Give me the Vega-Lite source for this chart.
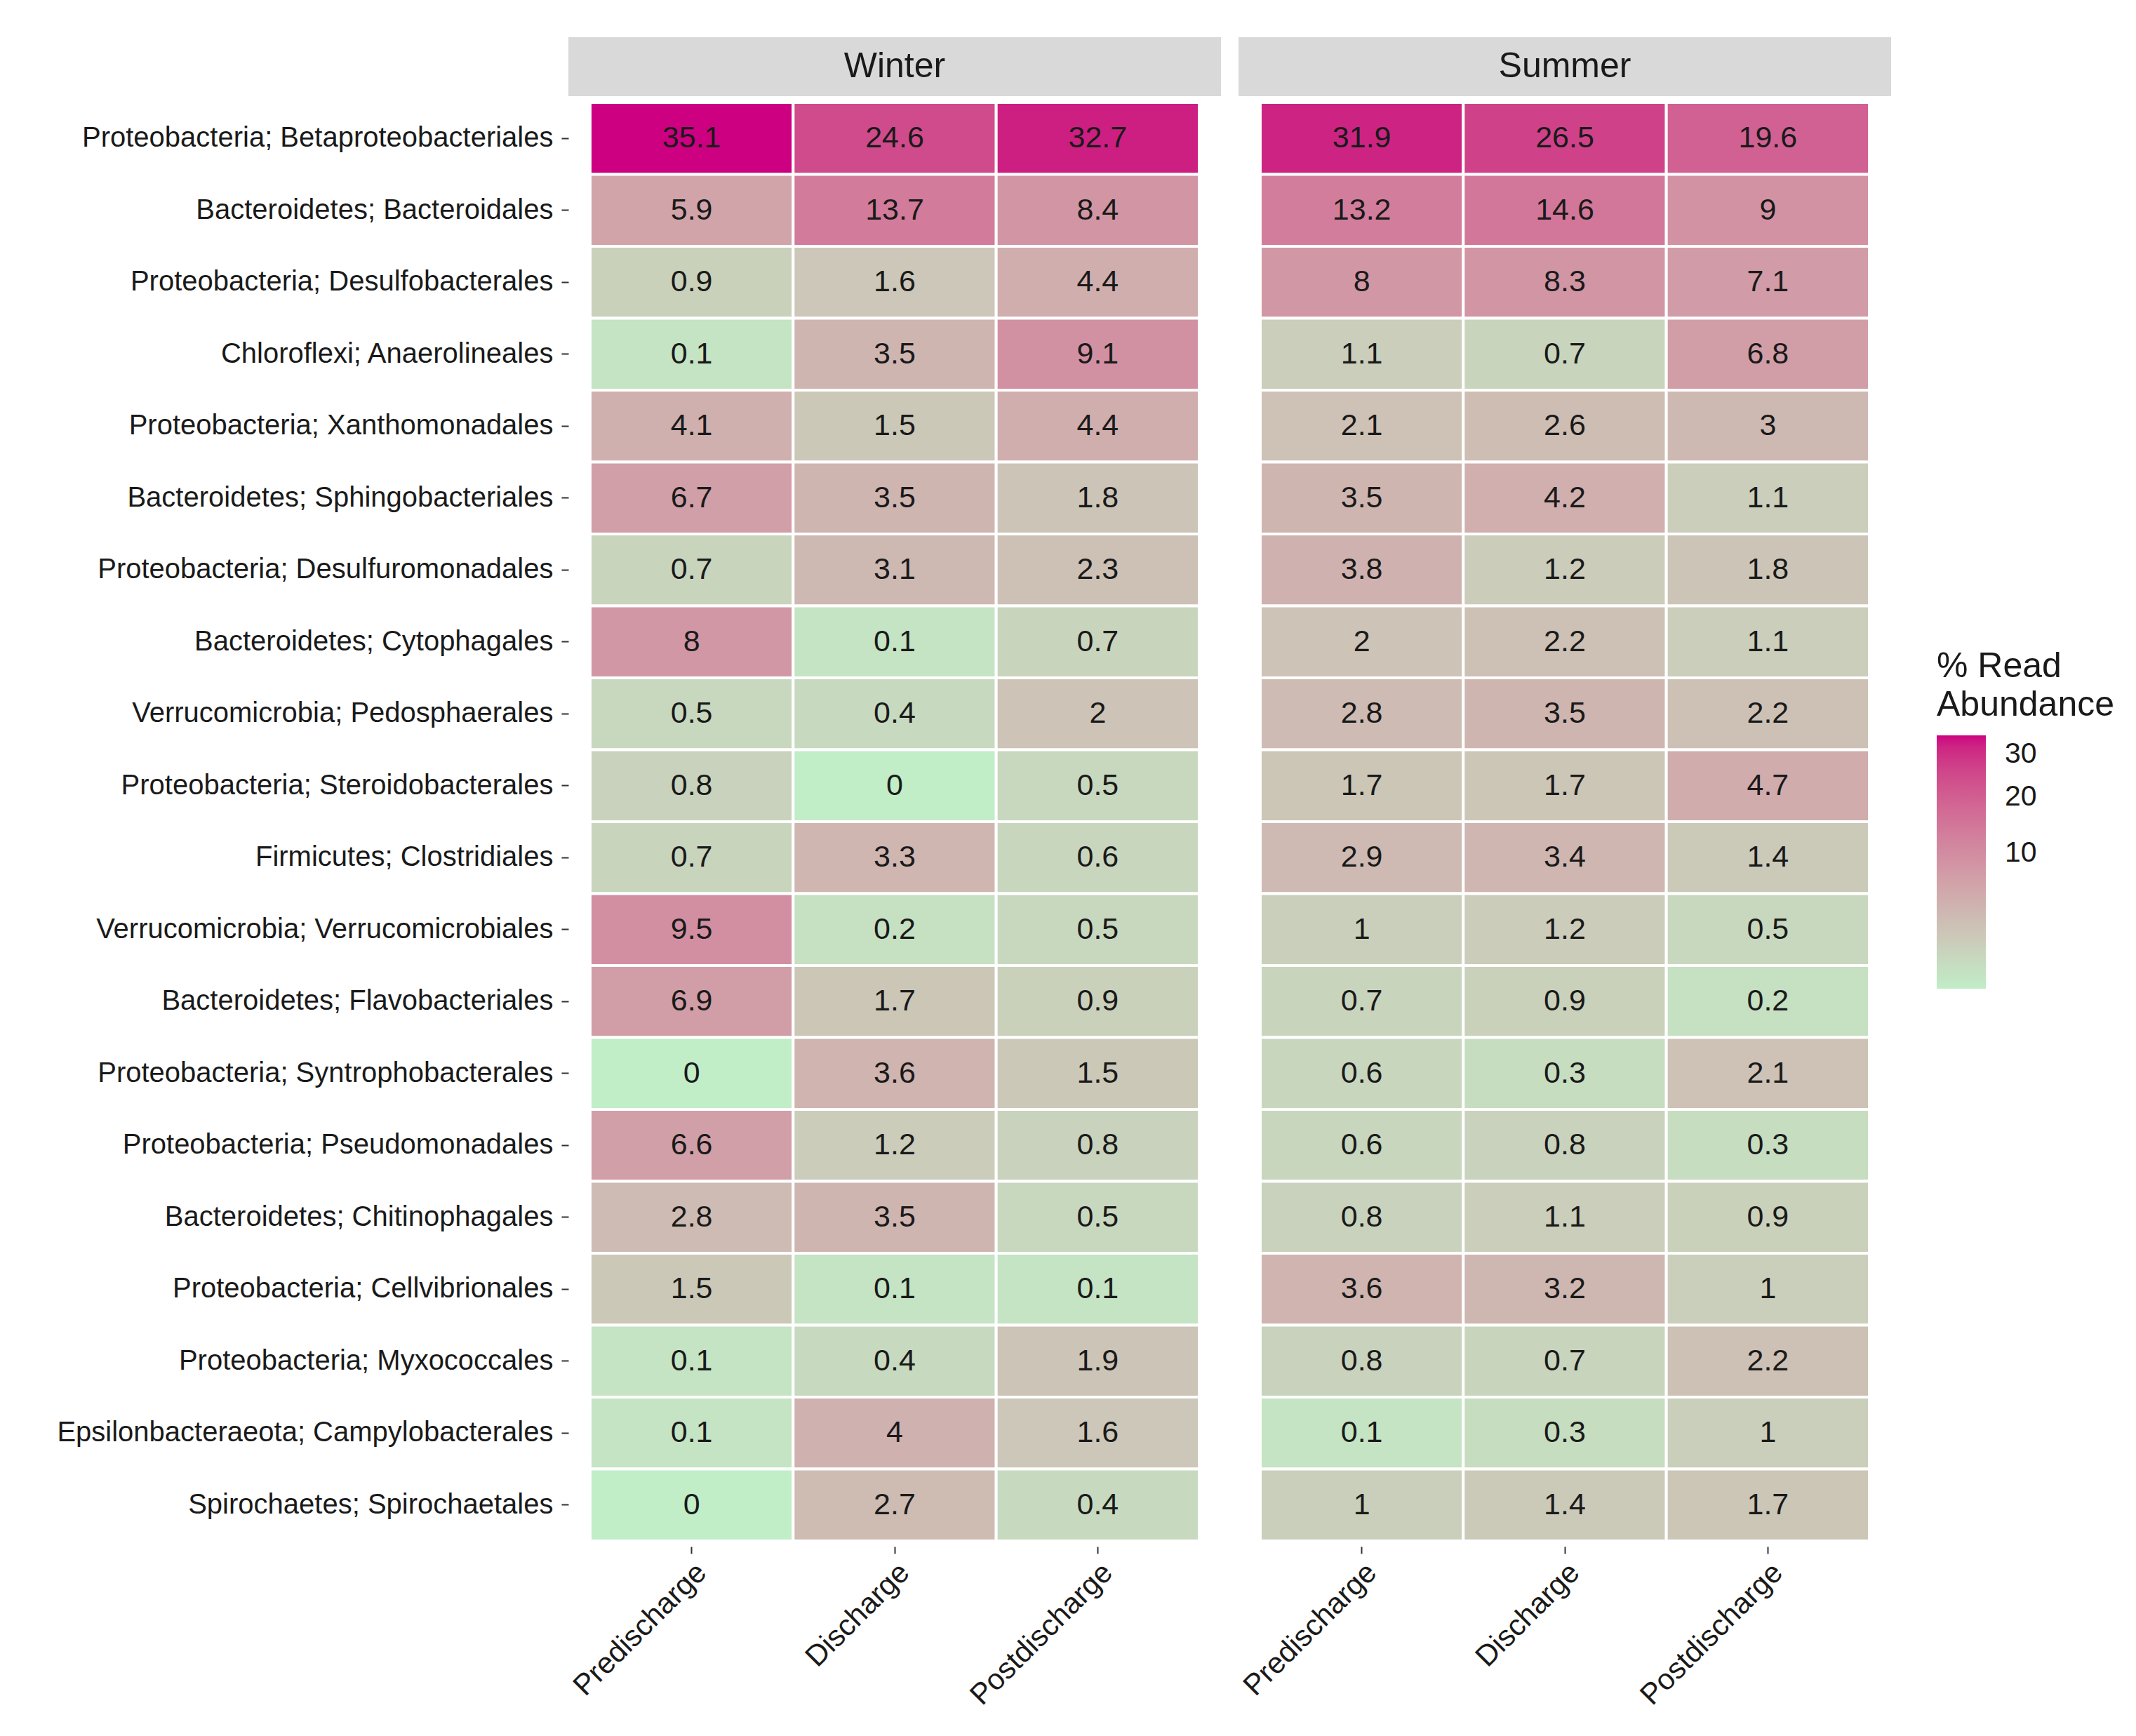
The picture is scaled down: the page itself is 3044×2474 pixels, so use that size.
{
  "$schema": "https://vega.github.io/schema/vega-lite/v6.json",
  "padding": {"left": 80, "top": 53, "right": 10, "bottom": 10},
  "background": "white",
  "config": {
    "font": "Liberation Sans",
    "view": {"stroke": null},
    "axis": {"labelFont": "Liberation Sans", "labelColor": "#1a1a1a", "tickColor": "#333333", "domain": false, "grid": false, "title": null, "labelLimit": 0}
  },
  "datasets": {
    "cells": [
      {"taxon": "Proteobacteria; Betaproteobacteriales", "season": "Winter", "stage": "Predischarge", "value": 35.1},
      {"taxon": "Proteobacteria; Betaproteobacteriales", "season": "Winter", "stage": "Discharge", "value": 24.6},
      {"taxon": "Proteobacteria; Betaproteobacteriales", "season": "Winter", "stage": "Postdischarge", "value": 32.7},
      {"taxon": "Proteobacteria; Betaproteobacteriales", "season": "Summer", "stage": "Predischarge", "value": 31.9},
      {"taxon": "Proteobacteria; Betaproteobacteriales", "season": "Summer", "stage": "Discharge", "value": 26.5},
      {"taxon": "Proteobacteria; Betaproteobacteriales", "season": "Summer", "stage": "Postdischarge", "value": 19.6},
      {"taxon": "Bacteroidetes; Bacteroidales", "season": "Winter", "stage": "Predischarge", "value": 5.9},
      {"taxon": "Bacteroidetes; Bacteroidales", "season": "Winter", "stage": "Discharge", "value": 13.7},
      {"taxon": "Bacteroidetes; Bacteroidales", "season": "Winter", "stage": "Postdischarge", "value": 8.4},
      {"taxon": "Bacteroidetes; Bacteroidales", "season": "Summer", "stage": "Predischarge", "value": 13.2},
      {"taxon": "Bacteroidetes; Bacteroidales", "season": "Summer", "stage": "Discharge", "value": 14.6},
      {"taxon": "Bacteroidetes; Bacteroidales", "season": "Summer", "stage": "Postdischarge", "value": 9},
      {"taxon": "Proteobacteria; Desulfobacterales", "season": "Winter", "stage": "Predischarge", "value": 0.9},
      {"taxon": "Proteobacteria; Desulfobacterales", "season": "Winter", "stage": "Discharge", "value": 1.6},
      {"taxon": "Proteobacteria; Desulfobacterales", "season": "Winter", "stage": "Postdischarge", "value": 4.4},
      {"taxon": "Proteobacteria; Desulfobacterales", "season": "Summer", "stage": "Predischarge", "value": 8},
      {"taxon": "Proteobacteria; Desulfobacterales", "season": "Summer", "stage": "Discharge", "value": 8.3},
      {"taxon": "Proteobacteria; Desulfobacterales", "season": "Summer", "stage": "Postdischarge", "value": 7.1},
      {"taxon": "Chloroflexi; Anaerolineales", "season": "Winter", "stage": "Predischarge", "value": 0.1},
      {"taxon": "Chloroflexi; Anaerolineales", "season": "Winter", "stage": "Discharge", "value": 3.5},
      {"taxon": "Chloroflexi; Anaerolineales", "season": "Winter", "stage": "Postdischarge", "value": 9.1},
      {"taxon": "Chloroflexi; Anaerolineales", "season": "Summer", "stage": "Predischarge", "value": 1.1},
      {"taxon": "Chloroflexi; Anaerolineales", "season": "Summer", "stage": "Discharge", "value": 0.7},
      {"taxon": "Chloroflexi; Anaerolineales", "season": "Summer", "stage": "Postdischarge", "value": 6.8},
      {"taxon": "Proteobacteria; Xanthomonadales", "season": "Winter", "stage": "Predischarge", "value": 4.1},
      {"taxon": "Proteobacteria; Xanthomonadales", "season": "Winter", "stage": "Discharge", "value": 1.5},
      {"taxon": "Proteobacteria; Xanthomonadales", "season": "Winter", "stage": "Postdischarge", "value": 4.4},
      {"taxon": "Proteobacteria; Xanthomonadales", "season": "Summer", "stage": "Predischarge", "value": 2.1},
      {"taxon": "Proteobacteria; Xanthomonadales", "season": "Summer", "stage": "Discharge", "value": 2.6},
      {"taxon": "Proteobacteria; Xanthomonadales", "season": "Summer", "stage": "Postdischarge", "value": 3},
      {"taxon": "Bacteroidetes; Sphingobacteriales", "season": "Winter", "stage": "Predischarge", "value": 6.7},
      {"taxon": "Bacteroidetes; Sphingobacteriales", "season": "Winter", "stage": "Discharge", "value": 3.5},
      {"taxon": "Bacteroidetes; Sphingobacteriales", "season": "Winter", "stage": "Postdischarge", "value": 1.8},
      {"taxon": "Bacteroidetes; Sphingobacteriales", "season": "Summer", "stage": "Predischarge", "value": 3.5},
      {"taxon": "Bacteroidetes; Sphingobacteriales", "season": "Summer", "stage": "Discharge", "value": 4.2},
      {"taxon": "Bacteroidetes; Sphingobacteriales", "season": "Summer", "stage": "Postdischarge", "value": 1.1},
      {"taxon": "Proteobacteria; Desulfuromonadales", "season": "Winter", "stage": "Predischarge", "value": 0.7},
      {"taxon": "Proteobacteria; Desulfuromonadales", "season": "Winter", "stage": "Discharge", "value": 3.1},
      {"taxon": "Proteobacteria; Desulfuromonadales", "season": "Winter", "stage": "Postdischarge", "value": 2.3},
      {"taxon": "Proteobacteria; Desulfuromonadales", "season": "Summer", "stage": "Predischarge", "value": 3.8},
      {"taxon": "Proteobacteria; Desulfuromonadales", "season": "Summer", "stage": "Discharge", "value": 1.2},
      {"taxon": "Proteobacteria; Desulfuromonadales", "season": "Summer", "stage": "Postdischarge", "value": 1.8},
      {"taxon": "Bacteroidetes; Cytophagales", "season": "Winter", "stage": "Predischarge", "value": 8},
      {"taxon": "Bacteroidetes; Cytophagales", "season": "Winter", "stage": "Discharge", "value": 0.1},
      {"taxon": "Bacteroidetes; Cytophagales", "season": "Winter", "stage": "Postdischarge", "value": 0.7},
      {"taxon": "Bacteroidetes; Cytophagales", "season": "Summer", "stage": "Predischarge", "value": 2},
      {"taxon": "Bacteroidetes; Cytophagales", "season": "Summer", "stage": "Discharge", "value": 2.2},
      {"taxon": "Bacteroidetes; Cytophagales", "season": "Summer", "stage": "Postdischarge", "value": 1.1},
      {"taxon": "Verrucomicrobia; Pedosphaerales", "season": "Winter", "stage": "Predischarge", "value": 0.5},
      {"taxon": "Verrucomicrobia; Pedosphaerales", "season": "Winter", "stage": "Discharge", "value": 0.4},
      {"taxon": "Verrucomicrobia; Pedosphaerales", "season": "Winter", "stage": "Postdischarge", "value": 2},
      {"taxon": "Verrucomicrobia; Pedosphaerales", "season": "Summer", "stage": "Predischarge", "value": 2.8},
      {"taxon": "Verrucomicrobia; Pedosphaerales", "season": "Summer", "stage": "Discharge", "value": 3.5},
      {"taxon": "Verrucomicrobia; Pedosphaerales", "season": "Summer", "stage": "Postdischarge", "value": 2.2},
      {"taxon": "Proteobacteria; Steroidobacterales", "season": "Winter", "stage": "Predischarge", "value": 0.8},
      {"taxon": "Proteobacteria; Steroidobacterales", "season": "Winter", "stage": "Discharge", "value": 0},
      {"taxon": "Proteobacteria; Steroidobacterales", "season": "Winter", "stage": "Postdischarge", "value": 0.5},
      {"taxon": "Proteobacteria; Steroidobacterales", "season": "Summer", "stage": "Predischarge", "value": 1.7},
      {"taxon": "Proteobacteria; Steroidobacterales", "season": "Summer", "stage": "Discharge", "value": 1.7},
      {"taxon": "Proteobacteria; Steroidobacterales", "season": "Summer", "stage": "Postdischarge", "value": 4.7},
      {"taxon": "Firmicutes; Clostridiales", "season": "Winter", "stage": "Predischarge", "value": 0.7},
      {"taxon": "Firmicutes; Clostridiales", "season": "Winter", "stage": "Discharge", "value": 3.3},
      {"taxon": "Firmicutes; Clostridiales", "season": "Winter", "stage": "Postdischarge", "value": 0.6},
      {"taxon": "Firmicutes; Clostridiales", "season": "Summer", "stage": "Predischarge", "value": 2.9},
      {"taxon": "Firmicutes; Clostridiales", "season": "Summer", "stage": "Discharge", "value": 3.4},
      {"taxon": "Firmicutes; Clostridiales", "season": "Summer", "stage": "Postdischarge", "value": 1.4},
      {"taxon": "Verrucomicrobia; Verrucomicrobiales", "season": "Winter", "stage": "Predischarge", "value": 9.5},
      {"taxon": "Verrucomicrobia; Verrucomicrobiales", "season": "Winter", "stage": "Discharge", "value": 0.2},
      {"taxon": "Verrucomicrobia; Verrucomicrobiales", "season": "Winter", "stage": "Postdischarge", "value": 0.5},
      {"taxon": "Verrucomicrobia; Verrucomicrobiales", "season": "Summer", "stage": "Predischarge", "value": 1},
      {"taxon": "Verrucomicrobia; Verrucomicrobiales", "season": "Summer", "stage": "Discharge", "value": 1.2},
      {"taxon": "Verrucomicrobia; Verrucomicrobiales", "season": "Summer", "stage": "Postdischarge", "value": 0.5},
      {"taxon": "Bacteroidetes; Flavobacteriales", "season": "Winter", "stage": "Predischarge", "value": 6.9},
      {"taxon": "Bacteroidetes; Flavobacteriales", "season": "Winter", "stage": "Discharge", "value": 1.7},
      {"taxon": "Bacteroidetes; Flavobacteriales", "season": "Winter", "stage": "Postdischarge", "value": 0.9},
      {"taxon": "Bacteroidetes; Flavobacteriales", "season": "Summer", "stage": "Predischarge", "value": 0.7},
      {"taxon": "Bacteroidetes; Flavobacteriales", "season": "Summer", "stage": "Discharge", "value": 0.9},
      {"taxon": "Bacteroidetes; Flavobacteriales", "season": "Summer", "stage": "Postdischarge", "value": 0.2},
      {"taxon": "Proteobacteria; Syntrophobacterales", "season": "Winter", "stage": "Predischarge", "value": 0},
      {"taxon": "Proteobacteria; Syntrophobacterales", "season": "Winter", "stage": "Discharge", "value": 3.6},
      {"taxon": "Proteobacteria; Syntrophobacterales", "season": "Winter", "stage": "Postdischarge", "value": 1.5},
      {"taxon": "Proteobacteria; Syntrophobacterales", "season": "Summer", "stage": "Predischarge", "value": 0.6},
      {"taxon": "Proteobacteria; Syntrophobacterales", "season": "Summer", "stage": "Discharge", "value": 0.3},
      {"taxon": "Proteobacteria; Syntrophobacterales", "season": "Summer", "stage": "Postdischarge", "value": 2.1},
      {"taxon": "Proteobacteria; Pseudomonadales", "season": "Winter", "stage": "Predischarge", "value": 6.6},
      {"taxon": "Proteobacteria; Pseudomonadales", "season": "Winter", "stage": "Discharge", "value": 1.2},
      {"taxon": "Proteobacteria; Pseudomonadales", "season": "Winter", "stage": "Postdischarge", "value": 0.8},
      {"taxon": "Proteobacteria; Pseudomonadales", "season": "Summer", "stage": "Predischarge", "value": 0.6},
      {"taxon": "Proteobacteria; Pseudomonadales", "season": "Summer", "stage": "Discharge", "value": 0.8},
      {"taxon": "Proteobacteria; Pseudomonadales", "season": "Summer", "stage": "Postdischarge", "value": 0.3},
      {"taxon": "Bacteroidetes; Chitinophagales", "season": "Winter", "stage": "Predischarge", "value": 2.8},
      {"taxon": "Bacteroidetes; Chitinophagales", "season": "Winter", "stage": "Discharge", "value": 3.5},
      {"taxon": "Bacteroidetes; Chitinophagales", "season": "Winter", "stage": "Postdischarge", "value": 0.5},
      {"taxon": "Bacteroidetes; Chitinophagales", "season": "Summer", "stage": "Predischarge", "value": 0.8},
      {"taxon": "Bacteroidetes; Chitinophagales", "season": "Summer", "stage": "Discharge", "value": 1.1},
      {"taxon": "Bacteroidetes; Chitinophagales", "season": "Summer", "stage": "Postdischarge", "value": 0.9},
      {"taxon": "Proteobacteria; Cellvibrionales", "season": "Winter", "stage": "Predischarge", "value": 1.5},
      {"taxon": "Proteobacteria; Cellvibrionales", "season": "Winter", "stage": "Discharge", "value": 0.1},
      {"taxon": "Proteobacteria; Cellvibrionales", "season": "Winter", "stage": "Postdischarge", "value": 0.1},
      {"taxon": "Proteobacteria; Cellvibrionales", "season": "Summer", "stage": "Predischarge", "value": 3.6},
      {"taxon": "Proteobacteria; Cellvibrionales", "season": "Summer", "stage": "Discharge", "value": 3.2},
      {"taxon": "Proteobacteria; Cellvibrionales", "season": "Summer", "stage": "Postdischarge", "value": 1},
      {"taxon": "Proteobacteria; Myxococcales", "season": "Winter", "stage": "Predischarge", "value": 0.1},
      {"taxon": "Proteobacteria; Myxococcales", "season": "Winter", "stage": "Discharge", "value": 0.4},
      {"taxon": "Proteobacteria; Myxococcales", "season": "Winter", "stage": "Postdischarge", "value": 1.9},
      {"taxon": "Proteobacteria; Myxococcales", "season": "Summer", "stage": "Predischarge", "value": 0.8},
      {"taxon": "Proteobacteria; Myxococcales", "season": "Summer", "stage": "Discharge", "value": 0.7},
      {"taxon": "Proteobacteria; Myxococcales", "season": "Summer", "stage": "Postdischarge", "value": 2.2},
      {"taxon": "Epsilonbacteraeota; Campylobacterales", "season": "Winter", "stage": "Predischarge", "value": 0.1},
      {"taxon": "Epsilonbacteraeota; Campylobacterales", "season": "Winter", "stage": "Discharge", "value": 4},
      {"taxon": "Epsilonbacteraeota; Campylobacterales", "season": "Winter", "stage": "Postdischarge", "value": 1.6},
      {"taxon": "Epsilonbacteraeota; Campylobacterales", "season": "Summer", "stage": "Predischarge", "value": 0.1},
      {"taxon": "Epsilonbacteraeota; Campylobacterales", "season": "Summer", "stage": "Discharge", "value": 0.3},
      {"taxon": "Epsilonbacteraeota; Campylobacterales", "season": "Summer", "stage": "Postdischarge", "value": 1},
      {"taxon": "Spirochaetes; Spirochaetales", "season": "Winter", "stage": "Predischarge", "value": 0},
      {"taxon": "Spirochaetes; Spirochaetales", "season": "Winter", "stage": "Discharge", "value": 2.7},
      {"taxon": "Spirochaetes; Spirochaetales", "season": "Winter", "stage": "Postdischarge", "value": 0.4},
      {"taxon": "Spirochaetes; Spirochaetales", "season": "Summer", "stage": "Predischarge", "value": 1},
      {"taxon": "Spirochaetes; Spirochaetales", "season": "Summer", "stage": "Discharge", "value": 1.4},
      {"taxon": "Spirochaetes; Spirochaetales", "season": "Summer", "stage": "Postdischarge", "value": 1.7}
    ],
    "strips": [{"season": "Winter"}, {"season": "Summer"}]
  },
  "spacing": 24,
  "hconcat": [
    {
      "spacing": 1,
      "vconcat": [
        {
          "width": 930, "height": 84,
          "view": {"fill": "#d9d9d9", "stroke": null},
          "data": {"name": "strips"},
          "transform": [{"filter": "datum.season === 'Winter'"}],
          "mark": {"type": "text", "fontSize": 50, "color": "#1a1a1a", "baseline": "middle"},
          "encoding": {"text": {"field": "season"}}
        },
        {
          "width": 930, "height": 2066,
          "data": {"name": "cells"},
          "transform": [{"filter": "datum.season === 'Winter'"}],
          "encoding": {
            "x": {"field": "stage", "type": "nominal", "sort": ["Predischarge", "Discharge", "Postdischarge"],
                  "scale": {"paddingInner": 0, "paddingOuter": 0.107},
                  "axis": {"labelAngle": -45, "labelFontSize": 42, "tickSize": 10, "tickWidth": 2, "labelPadding": 6}},
            "y": {"field": "taxon", "type": "nominal", "sort": null,
                  "scale": {"paddingInner": 0, "paddingOuter": 0.078},
                  "axis": {"labelFontSize": 40, "tickSize": 10, "tickWidth": 2, "labelPadding": 12}}
          },
          "layer": [
            {"mark": {"type": "rect", "stroke": "white", "strokeWidth": 4},
             "encoding": {"color": {"field": "value", "type": "quantitative",
               "scale": {"type": "sqrt", "range": ["#c1edc7", "#cc0080"], "interpolate": "lab"},
               "legend": {"title": ["% Read", "Abundance"], "values": [10, 20, 30], "orient": "none", "legendX": 1950, "legendY": 872,
                 "gradientLength": 361, "gradientThickness": 70, "gradientStrokeWidth": 0,
                 "titleFontSize": 50, "titleFontWeight": "normal", "titleColor": "#1a1a1a", "titleLineHeight": 55, "titlePadding": 18, "titleLimit": 600,
                 "labelFontSize": 41, "labelColor": "#1a1a1a", "labelOffset": 27}}}},
            {"mark": {"type": "text", "fontSize": 43, "color": "#1a1a1a"},
             "encoding": {"text": {"field": "value", "type": "quantitative"}}}
          ]
        }
      ]
    },
    {
      "spacing": 1,
      "vconcat": [
        {
          "width": 930, "height": 84,
          "view": {"fill": "#d9d9d9", "stroke": null},
          "data": {"name": "strips"},
          "transform": [{"filter": "datum.season === 'Summer'"}],
          "mark": {"type": "text", "fontSize": 50, "color": "#1a1a1a", "baseline": "middle"},
          "encoding": {"text": {"field": "season"}}
        },
        {
          "width": 930, "height": 2066,
          "data": {"name": "cells"},
          "transform": [{"filter": "datum.season === 'Summer'"}],
          "encoding": {
            "x": {"field": "stage", "type": "nominal", "sort": ["Predischarge", "Discharge", "Postdischarge"],
                  "scale": {"paddingInner": 0, "paddingOuter": 0.107},
                  "axis": {"labelAngle": -45, "labelFontSize": 42, "tickSize": 10, "tickWidth": 2, "labelPadding": 6}},
            "y": {"field": "taxon", "type": "nominal", "sort": null,
                  "scale": {"paddingInner": 0, "paddingOuter": 0.078},
                  "axis": null}
          },
          "layer": [
            {"mark": {"type": "rect", "stroke": "white", "strokeWidth": 4},
             "encoding": {"color": {"field": "value", "type": "quantitative"}}},
            {"mark": {"type": "text", "fontSize": 43, "color": "#1a1a1a"},
             "encoding": {"text": {"field": "value", "type": "quantitative"}}}
          ]
        }
      ]
    }
  ]
}
